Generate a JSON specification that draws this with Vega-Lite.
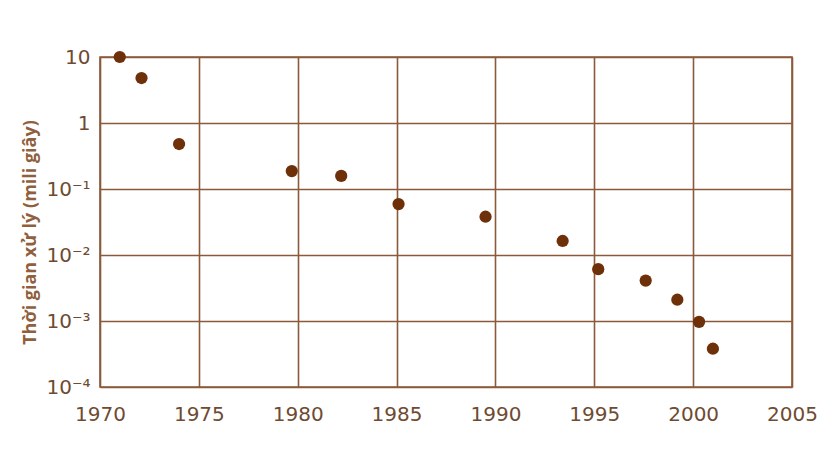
{
  "$schema": "https://vega.github.io/schema/vega-lite/v6.json",
  "width": 692,
  "height": 330,
  "autosize": "none",
  "padding": {"left": 100, "top": 57, "right": 44, "bottom": 88},
  "background": "white",
  "config": {
    "view": {"stroke": "#8a5a3a", "strokeWidth": 1.6},
    "axis": {
      "grid": true,
      "gridColor": "#8a5a3a",
      "gridWidth": 1.6,
      "gridOpacity": 1,
      "domain": false,
      "ticks": false,
      "labelFont": "DejaVu Sans",
      "labelFontSize": 20,
      "labelColor": "#6e4b32",
      "titleFont": "Open Sans",
      "titleColor": "#8f5f3e"
    }
  },
  "data": {
    "values": [
      {"year": 1971.0, "ms": 10},
      {"year": 1972.1, "ms": 4.8},
      {"year": 1974.0, "ms": 0.48},
      {"year": 1979.7, "ms": 0.187},
      {"year": 1982.2, "ms": 0.158},
      {"year": 1985.1, "ms": 0.059},
      {"year": 1989.5, "ms": 0.038},
      {"year": 1993.4, "ms": 0.0163},
      {"year": 1995.2, "ms": 0.0061},
      {"year": 1997.6, "ms": 0.0041},
      {"year": 1999.2, "ms": 0.0021},
      {"year": 2000.3, "ms": 0.00097},
      {"year": 2001.0, "ms": 0.00038}
    ]
  },
  "mark": {"type": "point", "filled": true, "size": 150, "color": "#6e3009", "opacity": 1, "clip": false},
  "encoding": {
    "x": {
      "field": "year",
      "type": "quantitative",
      "scale": {"domain": [1970, 2005], "nice": false, "zero": false},
      "axis": {
        "values": [1970, 1975, 1980, 1985, 1990, 1995, 2000, 2005],
        "format": "d",
        "title": null,
        "labelPadding": 17,
        "labelFlush": false
      }
    },
    "y": {
      "field": "ms",
      "type": "quantitative",
      "scale": {"type": "log", "domain": [0.0001, 10], "nice": false},
      "axis": {
        "values": [0.0001, 0.001, 0.01, 0.1, 1, 10],
        "labelExpr": "datum.value >= 5 ? '10' : datum.value >= 0.5 ? '1' : '10' + ['⁻¹','⁻²','⁻³','⁻⁴'][round(-log(datum.value)/LN10)-1]",
        "labelPadding": 10,
        "title": "Thời gian xử lý (mili giây)",
        "titleFontSize": 18,
        "titleFontWeight": "bold",
        "titleAngle": -90,
        "titleX": -70,
        "titleY": 175,
        "titleAlign": "center",
        "titleBaseline": "middle"
      }
    }
  }
}
